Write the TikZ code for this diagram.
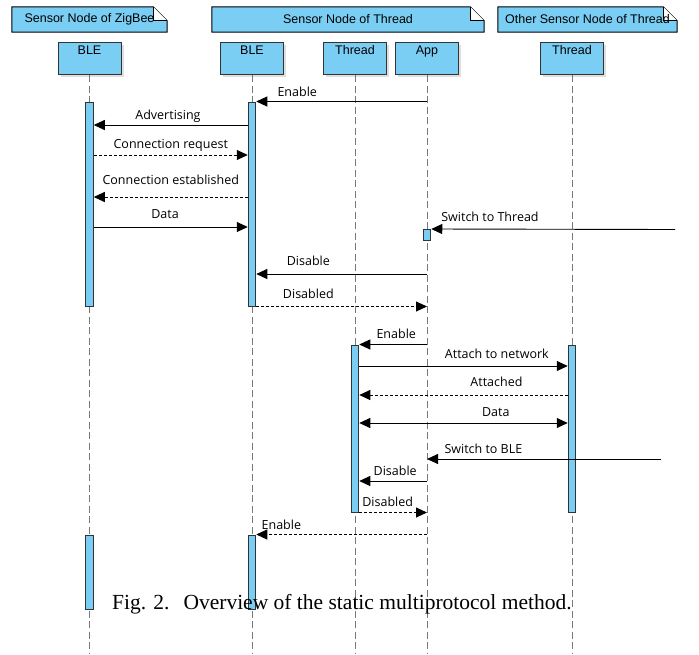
\documentclass[tikz,border=0pt]{standalone}
\usepackage{fontspec}
\setmainfont{Liberation Serif}
\newfontfamily\headfont{Liberation Sans}
\newfontfamily\msgfont{Open Sans}
\usetikzlibrary{arrows.meta,shadows,backgrounds}
\definecolor{boxblue}{RGB}{122,206,244}
\definecolor{lifegray}{RGB}{120,120,120}

\begin{document}
\begin{tikzpicture}[x=1pt,y=-1pt,>={Triangle[length=11pt,width=10pt]},
    note/.style={minimum height=25pt,inner sep=0pt,font=\headfont\fontsize{12.5}{14}\selectfont},
    head/.style={draw=black!80,fill=boxblue,line width=1pt,minimum width=63pt,
      text height=9pt,text depth=17pt,inner ysep=3pt,font=\headfont\fontsize{12.5}{14}\selectfont,
      drop shadow={shadow xshift=2.5pt,shadow yshift=-2.5pt,opacity=.25}},
    bar/.style={draw=black!80,fill=boxblue,line width=1pt,minimum width=7.5pt,inner sep=0pt},
    life/.style={draw=lifegray,line width=1pt,dash pattern=on 7pt off 3.5pt},
    msg/.style={->,line width=.9pt},
    reply/.style={->,line width=.9pt,dash pattern=on 3pt off 2pt},
    lbl/.style={font=\msgfont\fontsize{12.5}{14}\selectfont,inner sep=0pt,text height=9pt,text depth=2.5pt}]
    \useasboundingbox (0,0) rectangle (699,654);
    % group notes
    \node[note,minimum width=155pt] (zigbee) at (89.5,19.5) {Sensor Node of ZigBee};
    \node[note,minimum width=272pt] (thread) at (348,19.5) {Sensor Node of Thread};
    \node[note,minimum width=179pt] (other) at (587.5,19.5) {Other Sensor Node of Thread};
    \begin{scope}[on background layer]
    \foreach \n in {zigbee,thread,other}{
      \draw[fill=boxblue,line width=1pt] (\n.south west) -- (\n.north west) -- ([xshift=-14pt]\n.north east)
        -- ([yshift=-14pt]\n.north east) -- (\n.south east) -- cycle;
      \draw[fill=white,line width=1pt] ([xshift=-14pt]\n.north east) -- ([xshift=-14pt,yshift=-14pt]\n.north east)
        -- ([yshift=-14pt]\n.north east);
    }
    \end{scope}
    % lifelines
    \node[head] (ble1) at (89.5,58.5) {BLE};
    \node[head] (ble2) at (252,58.5) {BLE};
    \node[head] (thr) at (355,58.5) {Thread};
    \node[head] (app) at (427,58.5) {App};
    \node[head] (thr2) at (572,58.5) {Thread};
    \foreach \n in {ble1,ble2,thr,app,thr2}
      \draw[life] (\n.south) -- (\n.south |- 0,654);
    % activations
    \node[bar,minimum height=204pt] (ble1a) at (89.5,204) {};
    \node[bar,minimum height=204pt] (ble2a) at (252,204) {};
    \node[bar,minimum height=11pt] (appa) at (427,235) {};
    \node[bar,minimum height=167pt] (thra) at (355,428.5) {};
    \node[bar,minimum height=167pt] (thr2a) at (572,428.5) {};
    \node[bar,minimum height=74pt] (ble1b) at (89.5,572) {};
    \node[bar,minimum height=74pt] (ble2b) at (252,572) {};
    \coordinate (sw1) at (675,229.5);
    \coordinate (sw2) at (661,459);
    % messages
    \draw[msg] (app |- ble2a.north) -- (ble2a.north east) node[lbl,pos=.76,above=2pt] {Enable};
    \draw[msg] (ble2a.west |- 0,125) -- (ble1a.east |- 0,125) node[lbl,pos=.518,above=3pt] {Advertising};
    \draw[reply] (ble1a.east |- 0,155) -- (ble2a.west |- 0,155) node[lbl,midway,above=4pt] {Connection request};
    \draw[reply] (ble2a.west |- 0,197) -- (ble1a.east |- 0,197) node[lbl,midway,above=10pt] {Connection established};
    \draw[msg] (ble1a.east |- 0,227) -- (ble2a.west |- 0,227) node[lbl,pos=.463,above=6pt] {Data};
    \draw[msg] (sw1) -- (appa.north east) node[lbl,pos=.759,above=5pt] {Switch to Thread};
    \draw[msg] (app |- 0,274) -- (ble2a.east |- 0,274) node[lbl,pos=.695,above=6pt] {Disable};
    \draw[reply] (ble2a.south east) -- (app |- ble2a.south) node[lbl,pos=.305,above=5pt] {Disabled};
    \draw[msg] (app |- thra.north) -- (thra.north east) node[lbl,pos=.454,above=3pt] {Enable};
    \draw[msg] (thra.east |- 0,366) -- (thr2a.west |- 0,366) node[lbl,pos=.66,above=5pt] {Attach to network};
    \draw[reply] (thr2a.west |- 0,395) -- (thra.east |- 0,395) node[lbl,pos=.342,above=6pt] {Attached};
    \draw[msg,<->] (thra.east |- 0,423) -- (thr2a.west |- 0,423) node[lbl,pos=.655,above=4pt] {Data};
    \draw[msg] (sw2) -- (app |- sw2) node[lbl,pos=.759,above=3pt] {Switch to BLE};
    \draw[msg] (app |- 0,481) -- (thra.east |- 0,481) node[lbl,pos=.469,above=3pt] {Disable};
    \draw[reply] (thra.south east) -- (app |- thra.south) node[lbl,pos=.42,above=3pt] {Disabled};
    \draw[reply] (app |- ble2b.north) -- (ble2b.north east) node[lbl,pos=.853,above=2pt] {Enable};
    % caption
    \node[anchor=base west,inner sep=0pt,font=\fontsize{21.5}{24}\selectfont] (caption) at (112,609)
      {Fig. 2.\hspace{14pt}Overview of the static multiprotocol method.};
\end{tikzpicture}
\end{document}
